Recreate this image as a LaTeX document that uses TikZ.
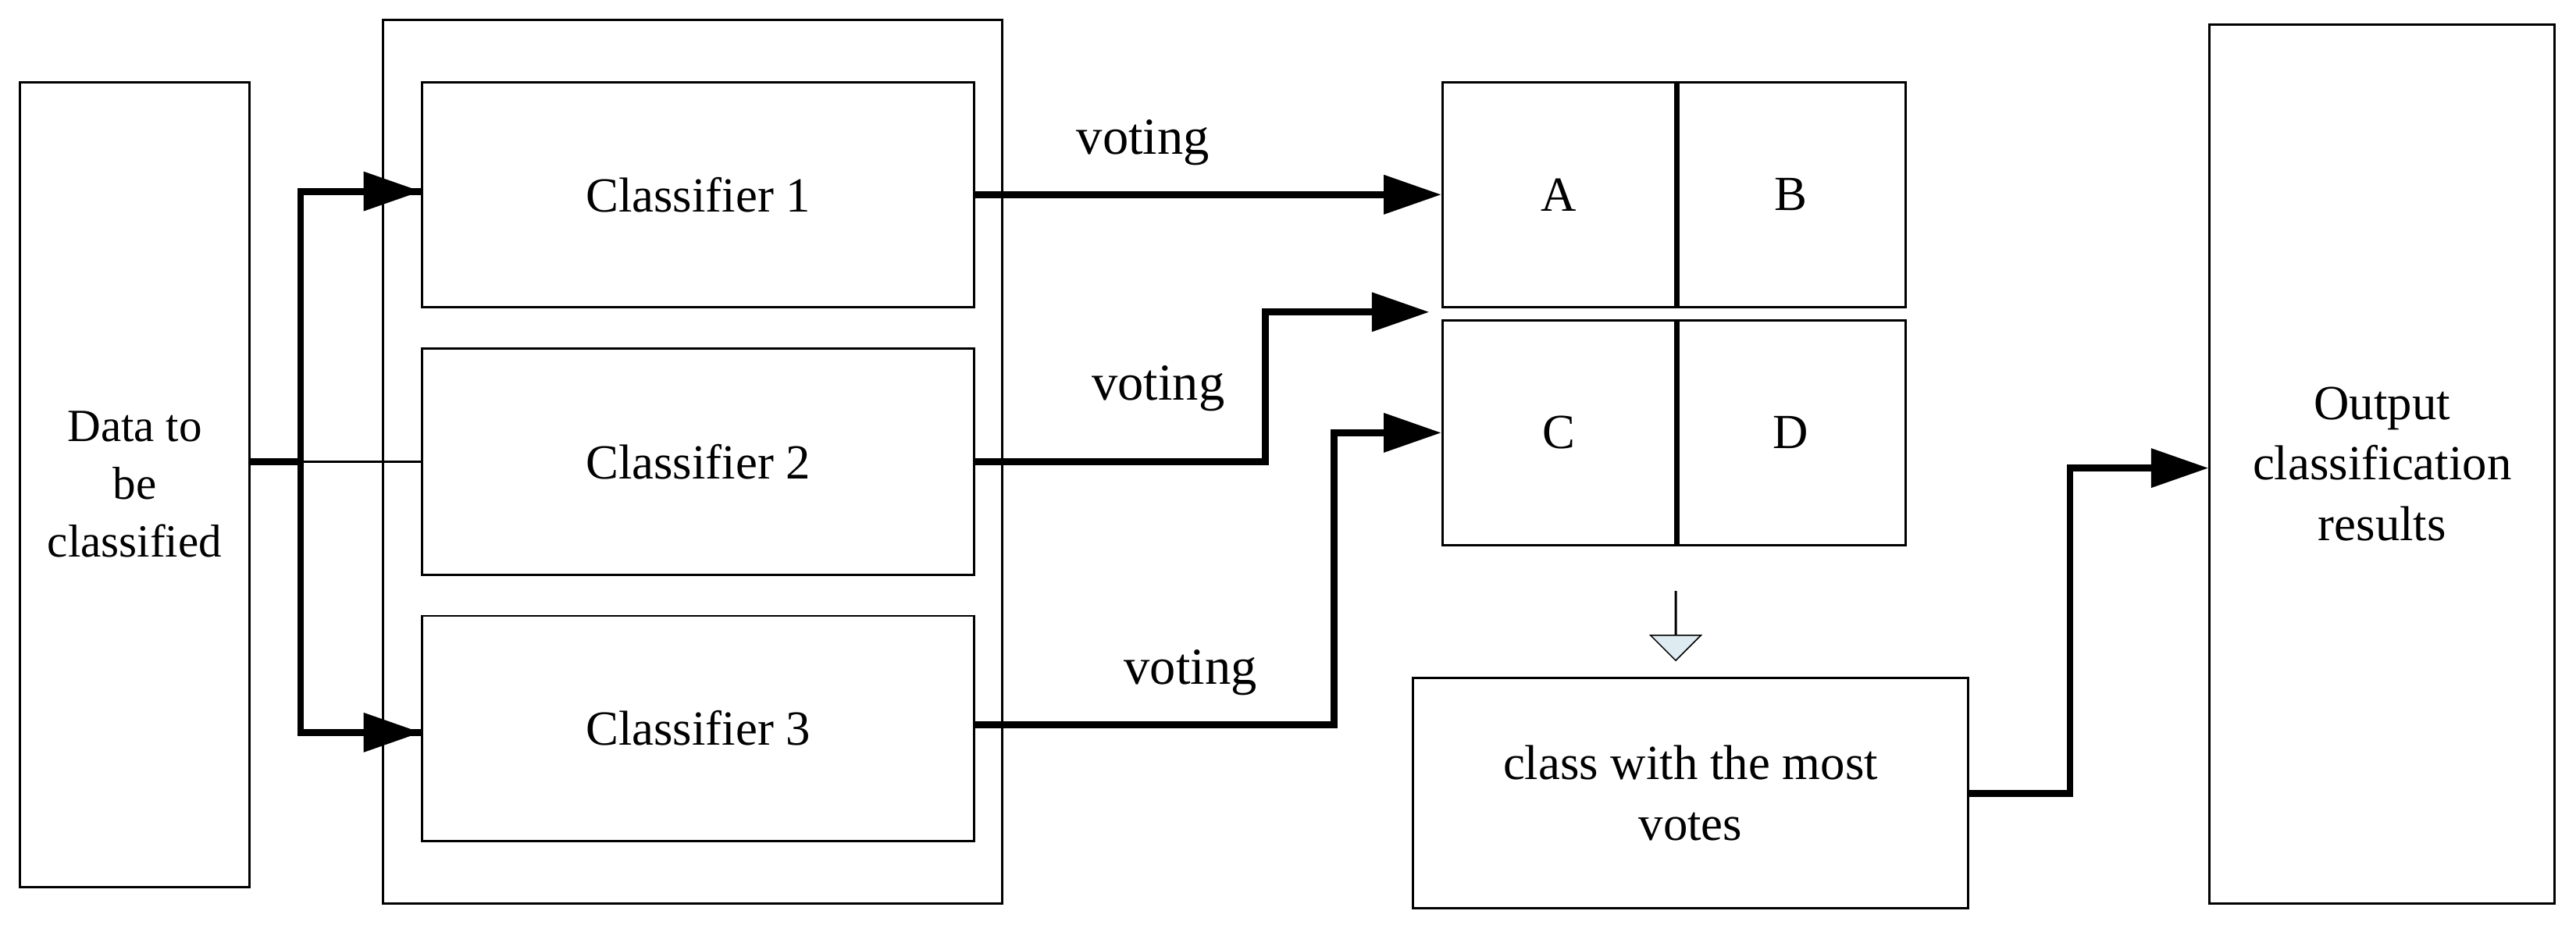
\documentclass[tikz,border=0pt]{standalone}
\usepackage{fontspec}
\setmainfont{Liberation Serif}
\usetikzlibrary{positioning,shapes.arrows,arrows.meta}
\definecolor{hintblue}{RGB}{222,235,240}
\begin{document}
\begin{tikzpicture}[x=0.02cm,y=-0.02cm,
    box/.style={rectangle,draw,thick,inner sep=0pt,align=center,font=\fontsize{17}{21}\selectfont},
    arrow/.style={-{Triangle[length=7mm,width=4.6mm]},line width=2.4pt},
    link/.style={line width=2.4pt},
    lbl/.style={font=\fontsize{18}{20}\selectfont}]
    \useasboundingbox (0,0) rectangle (1568,563);

    \node[box,minimum width=2.8cm,minimum height=9.8cm,font=\fontsize{16}{20}\selectfont] (data) at (82,295) {Data to\\be\\classified};
    \node[box,minimum width=7.54cm,minimum height=10.76cm] (ensemble) at (421.5,281) {};
    \node[box,minimum width=6.72cm,minimum height=2.74cm] (clf1) at (425,118.5) {Classifier 1};
    \node[box,minimum width=6.72cm,minimum height=2.76cm] (clf2) at (425,281) {Classifier 2};
    \node[box,minimum width=6.72cm,minimum height=2.74cm] (clf3) at (425,443.5) {Classifier 3};

    \node[box,minimum width=2.84cm,minimum height=2.74cm] (A) at (949,118.5) {A};
    \node[box,minimum width=2.80cm,minimum height=2.74cm] (B) at (1090,118.5) {B};
    \node[box,minimum width=2.84cm,minimum height=2.74cm] (C) at (949,263.5) {C};
    \node[box,minimum width=2.80cm,minimum height=2.74cm] (D) at (1090,263.5) {D};
    \draw[line width=1.8pt] (A.north east) -- (A.south east);
    \draw[line width=1.8pt] (C.north east) -- (C.south east);

    \node[single arrow,draw,fill=hintblue,shape border rotate=270,inner xsep=0pt,inner ysep=0.3cm,
          minimum height=0.84cm,single arrow head extend=0.3cm] (down) at (1020,381) {};
    \node[box,minimum width=6.76cm,minimum height=2.8cm] (most) at (1029,483) {class with the most\\votes};
    \node[box,minimum width=4.2cm,minimum height=10.7cm] (output) at (1450,282.5) {Output\\classification\\results};

    \coordinate (split) at (183,281);
    \draw[link] (data.east |- split) -- (split);
    \draw[thick] (split) -- (clf2.west);
    \draw[link] (split) |- ([yshift=0.04cm]clf1.west) coordinate (in1);
    \draw[arrow] ([xshift=-1.4cm]in1) -- (in1);
    \draw[link] (split) |- ([yshift=-0.05cm]clf3.west) coordinate (in3);
    \draw[arrow] ([xshift=-1.4cm]in3) -- (in3);

    \draw[arrow] (clf1.east) -- node[lbl,above,pos=0.36,yshift=0.2cm] {voting} (clf1.east -| A.west);
    \coordinate (up2) at (770,190);
    \draw[arrow] (clf2.east) -| node[lbl,above,pos=0.5,yshift=0.45cm,xshift=-1.3cm] {voting} (up2) -- (870,190);
    \coordinate (up3) at (812,263.5);
    \draw[arrow] ([yshift=0.04cm]clf3.east) -| node[lbl,above,pos=0.3,yshift=0.2cm] {voting} (up3) -- (C.west);
    \coordinate (up4) at (1260,285);
    \draw[arrow] (most.east) -| (up4) -- (up4 -| output.west);
\end{tikzpicture}
\end{document}
